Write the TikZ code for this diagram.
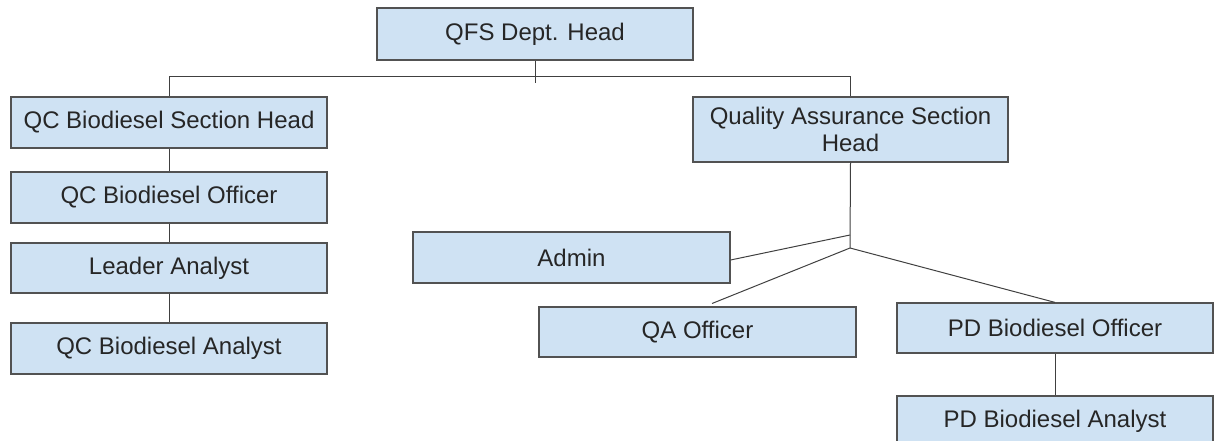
\documentclass[tikz,border=0pt]{standalone}
\usepackage{fontspec}
\setmainfont{Liberation Sans}
\begin{document}
\begin{tikzpicture}[x=1pt,y=-1pt,
  box/.style={draw=black!68, line width=1.2pt, fill=boxblue, text=black!85,
    font=\fontsize{24}{28}\selectfont, inner sep=0pt, align=center},
  conn/.style={draw=black!75, line width=1pt}]
\definecolor{boxblue}{HTML}{CFE2F3}
\useasboundingbox (0,0) rectangle (1216,441);
\clip (0,0) rectangle (1216,441);
\node[box, minimum width=316pt, minimum height=52pt] (top) at (535,34) {QFS Dept. Head};
\node[box, minimum width=316pt, minimum height=51pt] (qcsh) at (169,122.5) {QC Biodiesel Section Head};
\node[box, minimum width=316pt, minimum height=51pt] (qco) at (169,197.5) {QC Biodiesel Officer};
\node[box, minimum width=316pt, minimum height=50pt] (la) at (169,268) {Leader Analyst};
\node[box, minimum width=316pt, minimum height=51pt] (qca) at (169,348.5) {QC Biodiesel Analyst};
\node[box, minimum width=315pt, minimum height=65pt] (qash) at (850.5,129.5) {Quality Assurance Section\\[-1pt]Head};
\node[box, minimum width=317pt, minimum height=51pt] (admin) at (571.5,257.5) {Admin};
\node[box, minimum width=317pt, minimum height=50pt] (qao) at (697.5,332) {QA Officer};
\node[box, minimum width=316pt, minimum height=50pt] (pdo) at (1055,328) {PD Biodiesel Officer};
\node[box, minimum width=316pt, minimum height=51pt] (pda) at (1055,421.5) {PD Biodiesel Analyst};
\coordinate (tb) at (535,83);
\coordinate (hl) at (169,77);
\coordinate (hr) at (850.5,77);
\coordinate (ja) at (850,235);
\coordinate (jb) at (850,248);
\coordinate (qaend) at (712,303.5);
\draw[conn] (top.south) -- (tb);
\draw[conn] (hl) -- (hr);
\draw[conn] (hl) -- (qcsh.north);
\draw[conn] (hr) -- (qash.north);
\draw[conn] (qcsh.south) -- (qco.north);
\draw[conn] (qco.south) -- (la.north);
\draw[conn] (la.south) -- (qca.north);
\draw[conn] (qash.south) -- (jb);
\draw[conn] (ja) -- ([yshift=-2.5pt]admin.east);
\draw[conn] (jb) -- (qaend);
\draw[conn] (jb) -- (pdo.north);
\draw[conn] (pdo.south) -- (pda.north);
\end{tikzpicture}
\end{document}
